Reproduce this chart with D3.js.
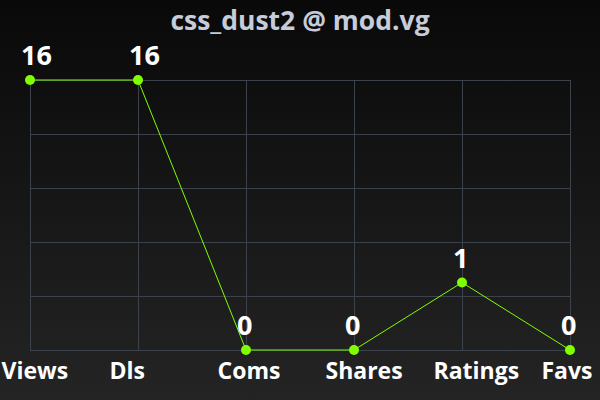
<!DOCTYPE html>
<html><head><meta charset="utf-8">
<script src="https://cdn.jsdelivr.net/npm/d3@7"></script>
<style>html,body{margin:0;padding:0;background:#111;}svg{display:block;}</style>
</head><body>
<svg id="chart" width="600" height="400"></svg>
<script>
const title = "css_dust2 @ mod.vg";
const categories = ["Views", "Dls", "Coms", "Shares", "Ratings", "Favs"];
const values = [16, 16, 0, 0, 1, 0];
const gridSteps = 5;

(function () {
const W = 600, H = 400;
const svg = d3.select("#chart");
const defs = svg.append("defs");
const grad = defs.append("linearGradient").attr("id", "bg").attr("x1", 0).attr("y1", 0).attr("x2", 0).attr("y2", 1);
grad.append("stop").attr("offset", "0%").attr("stop-color", "#090909");
grad.append("stop").attr("offset", "100%").attr("stop-color", "#242424");
svg.append("rect").attr("width", W).attr("height", H).attr("fill", "url(#bg)");

const pL = 30, pR = 570, pT = 80, pB = 350;
const x = d3.scalePoint().domain(categories).range([pL, pR]);
const y = d3.scaleSqrt().domain([0, d3.max(values)]).range([pB, pT]);
const gy = d3.scaleLinear().domain([0, gridSteps]).range([pB, pT]);

const grid = svg.append("g").attr("stroke", "#3c424b").attr("stroke-width", 1).attr("shape-rendering", "crispEdges");
grid.selectAll("line.h").data(d3.range(gridSteps + 1)).join("line")
  .attr("class", "h")
  .attr("x1", pL).attr("x2", pR)
  .attr("y1", d => gy(d)).attr("y2", d => gy(d));
grid.selectAll("line.v").data(categories).join("line")
  .attr("class", "v")
  .attr("x1", d => x(d)).attr("x2", d => x(d))
  .attr("y1", pT).attr("y2", pB);

const pts = categories.map((c, i) => ({c, v: values[i]}));
const line = d3.line().x(d => x(d.c)).y(d => y(d.v));
svg.append("path").datum(pts).attr("d", line)
  .attr("fill", "none").attr("stroke", "#7fff00").attr("stroke-width", 1);
svg.append("g").selectAll("circle").data(pts).join("circle")
  .attr("cx", d => x(d.c)).attr("cy", d => y(d.v)).attr("r", 5)
  .attr("fill", "#7fff00");

const font = "'Open Sans', 'DejaVu Sans', sans-serif";
svg.append("g").selectAll("text").data(pts).join("text")
  .attr("x", d => x(d.c) - 9).attr("y", d => y(d.v) - 15)
  .attr("text-anchor", "start")
  .attr("font-family", font).attr("font-weight", "bold").attr("font-size", 27)
  .attr("fill", "#ffffff").text(d => d.v);

svg.append("g").selectAll("text").data(categories).join("text")
  .attr("x", d => x(d) - 28.5).attr("y", 379)
  .attr("text-anchor", "start")
  .attr("font-family", font).attr("font-weight", "bold").attr("font-size", 23)
  .attr("fill", "#ffffff").text(d => d);

svg.append("text").attr("x", W / 2).attr("y", 30).attr("text-anchor", "middle")
  .attr("font-family", font).attr("font-weight", "bold").attr("font-size", 26.5)
  .attr("fill", "#c6ccd9").text(title);
})();
</script>
</body></html>
